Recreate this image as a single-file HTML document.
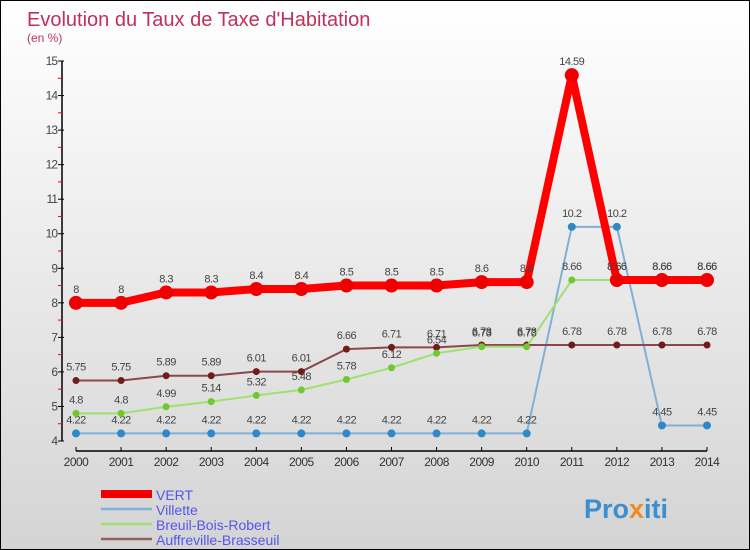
<!DOCTYPE html>
<html><head><meta charset="utf-8"><style>
body{margin:0}
#c{width:748px;height:548px;border:1px solid #000;background:linear-gradient(#fff,#d4d4d4);position:relative;font-family:"Liberation Sans",sans-serif;overflow:hidden}
</style></head><body>
<div id="c">
<svg id="s" width="748" height="548">
<text x="26" y="25" font-size="20" fill="#c0305a">Evolution du Taux de Taxe d'Habitation</text>
<text x="26" y="41" font-size="12" fill="#c0305a">(en %)</text>
<g id="g"></g>
<text x="583" y="517" font-size="27" font-weight="bold" fill="#3a8fd0">Pro<tspan fill="#f08a20">x</tspan>iti</text>
</svg></div>
<script>
const years=[2000,2001,2002,2003,2004,2005,2006,2007,2008,2009,2010,2011,2012,2013,2014];
const yTicks=[4,5,6,7,8,9,10,11,12,13,14,15];
const vert=[8,8,8.3,8.3,8.4,8.4,8.5,8.5,8.5,8.6,8.6,14.59,8.66,8.66,8.66];
const villette=[4.22,4.22,4.22,4.22,4.22,4.22,4.22,4.22,4.22,4.22,4.22,10.2,10.2,4.45,4.45];
const breuil=[4.8,4.8,4.99,5.14,5.32,5.48,5.78,6.12,6.54,6.73,6.73,8.66,8.66,8.66,8.66];
const auff=[5.75,5.75,5.89,5.89,6.01,6.01,6.66,6.71,6.71,6.78,6.78,6.78,6.78,6.78,6.78];
const names=['VERT','Villette','Breuil-Bois-Robert','Auffreville-Brasseuil'];
const NS='http://www.w3.org/2000/svg',g=document.getElementById('g');
const X=i=>75+i*(706-75)/(years.length-1);
const Y=v=>440-(v-4)*(440-60)/11;
function el(t,a,p){const e=document.createElementNS(NS,t);for(const k in a)e.setAttribute(k,a[k]);(p||g).appendChild(e);return e;}
let ax=el('line',{x1:61,y1:Y(15),x2:61,y2:Y(4),stroke:'#000','stroke-width':1.5});

let bx=el('line',{x1:X(0),y1:450,x2:X(14),y2:450,stroke:'#000','stroke-width':1.5});

yTicks.forEach(v=>{el('line',{x1:57,y1:Y(v),x2:63,y2:Y(v),stroke:'#000'});
if(v<15)el('line',{x1:57,y1:Y(v+0.5),x2:61,y2:Y(v+0.5),stroke:'red'});
let t=el('text',{x:56,y:Y(v)+4,'font-size':12,'text-anchor':'end',fill:'#444','letter-spacing':'-1'});t.textContent=v;
});
years.forEach((y,i)=>{el('line',{x1:X(i),y1:446,x2:X(i),y2:450,stroke:'#000'});
let t=el('text',{x:X(i),y:465,'font-size':12,'text-anchor':'middle',fill:'#333','letter-spacing':'-0.5'});t.textContent=y;
});
function series(d,col,dot,w,r,name){
const s=el('g',{});
el('polyline',{points:d.map((v,i)=>X(i)+','+Y(v)).join(' '),fill:'none',stroke:col,'stroke-width':w,'stroke-linejoin':'round'},s);
d.forEach((v,i)=>{let c=el('circle',{cx:X(i),cy:Y(v),r:r,fill:dot},s);

let t=el('text',{x:X(i),y:Y(v)-10,'font-size':11,'text-anchor':'middle',fill:'#444','letter-spacing':'-0.5'},s);t.textContent=v;});}
series(villette,'#80b0d8','#2f88c8',2,4,'villette');
series(auff,'#8a4848','#701c1c',2,3.5,'auffreville');
series(breuil,'#a0e070','#70c830',2,3.5,'breuil');
series(vert,'#ff0000','#ee0000',8,7,'vert');
const cols=['#ee0000','#80b0d8','#a0e070','#906060'],ws=[8,2.5,2.5,2.5];
names.forEach((n,i)=>{const yy=493+i*15;
el('line',{x1:100,y1:yy,x2:151,y2:yy,stroke:cols[i],'stroke-width':ws[i]});
let t=el('text',{x:155,y:yy+6,'font-size':14,fill:'#5555ee'});t.textContent=n;
});
</script></body></html>
